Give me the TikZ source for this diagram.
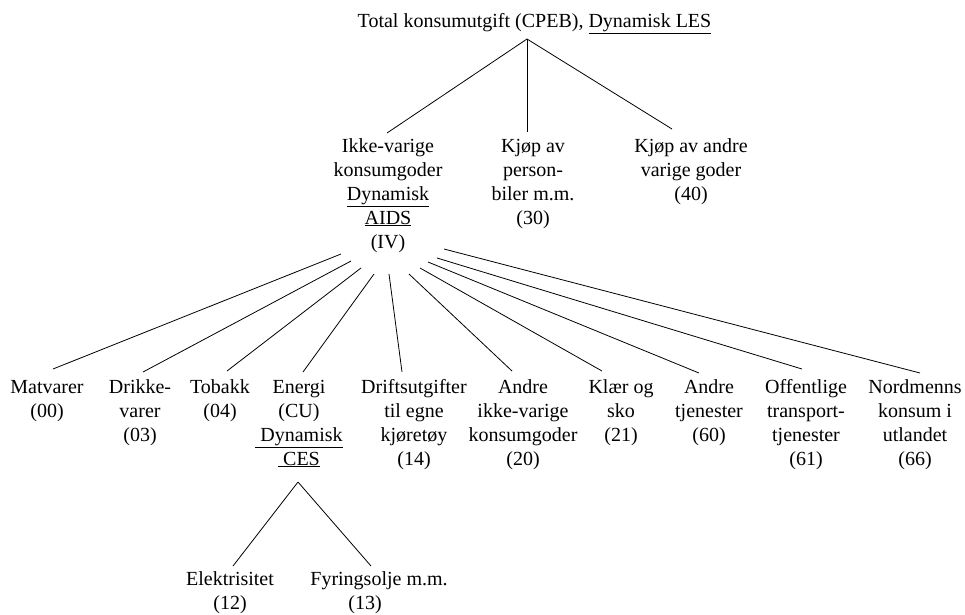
\documentclass[tikz,border=0pt]{standalone}
\usepackage{fontspec}
\setmainfont{Liberation Serif}
\tikzset{
  lbl/.style={inner sep=0pt, outer sep=0pt, align=center, anchor=north,
              font=\fontsize{20}{24}\selectfont},
  conn/.style={line width=0.8pt, black}
}
\begin{document}
\begin{tikzpicture}[x=1pt,y=-1pt]
\useasboundingbox (0,0) rectangle (965,614);
% level 1
\node[lbl] (top) at (534.5,10.2) {\strut Total konsumutgift (CPEB), \underline{Dynamisk LES}};
% level 2
\node[lbl] (ikke) at (388,135.2) {\strut Ikke-varige\\konsumgoder\\\underline{Dynamisk}\\\underline{AIDS}\\(IV)};
\node[lbl] (bil) at (533,135.2) {\strut Kjøp av\\person-\\biler m.m.\\(30)};
\node[lbl] (andre40) at (691,135.2) {\strut Kjøp av andre\\varige goder\\(40)};
% level 3
\node[lbl] (mat) at (47,376.2) {\strut Matvarer\\(00)};
\node[lbl] (drikke) at (140,376.2) {\strut Drikke-\\varer\\(03)};
\node[lbl] (tobakk) at (220,376.2) {\strut Tobakk\\(04)};
\node[lbl] (energi) at (299,376.2) {\strut Energi\\(CU)\\\underline{\ Dynamisk}\\\underline{\ CES}};
\node[lbl] (drift) at (414,376.2) {\strut Driftsutgifter\\til egne\\kjøretøy\\(14)};
\node[lbl] (andre20) at (523,376.2) {\strut Andre\\ikke-varige\\konsumgoder\\(20)};
\node[lbl] (klaer) at (621,376.2) {\strut Klær og\\sko\\(21)};
\node[lbl] (andre60) at (709,376.2) {\strut Andre\\tjenester\\(60)};
\node[lbl] (off) at (806,376.2) {\strut Offentlige\\transport-\\tjenester\\(61)};
\node[lbl] (nord) at (915,376.2) {\strut Nordmenns\\konsum i\\utlandet\\(66)};
% level 4
\node[lbl] (elek) at (230,568.2) {\strut Elektrisitet\\(12)};
\node[lbl] (fyr) at (379,568.2) {\strut Fyringsolje m.m.\\\hspace*{-28pt}(13)};
% connectors level 1 -> 2
\draw[conn] ([shift={(-7.5,28.8)}]top.north) -- ([shift={(-1,-2.2)}]ikke.north);
\draw[conn] ([shift={(-7.5,28.8)}]top.north) -- ([shift={(-6,-3.2)}]bil.north);
\draw[conn] ([shift={(-7.5,28.8)}]top.north) -- ([shift={(-19,-6.2)}]andre40.north);
% connectors level 2 -> 3
\draw[conn] ([shift={(-47,118.8)}]ikke.north) -- ([shift={(6,-7.2)}]mat.north);
\draw[conn] ([shift={(-37,125.8)}]ikke.north) -- ([shift={(3,-4.2)}]drikke.north);
\draw[conn] ([shift={(-27,132.8)}]ikke.north) -- ([shift={(7,-5.2)}]tobakk.north);
\draw[conn] ([shift={(-14,138.8)}]ikke.north) -- ([shift={(4,-4.2)}]energi.north);
\draw[conn] ([shift={(1,138.8)}]ikke.north) -- ([shift={(-12,-4.2)}]drift.north);
\draw[conn] ([shift={(21,138.8)}]ikke.north) -- ([shift={(-11,-5.2)}]andre20.north);
\draw[conn] ([shift={(32,132.8)}]ikke.north) -- ([shift={(-19,-5.2)}]klaer.north);
\draw[conn] ([shift={(40,126.8)}]ikke.north) -- ([shift={(-10,-3.2)}]andre60.north);
\draw[conn] ([shift={(49,122.8)}]ikke.north) -- ([shift={(-4,-7.2)}]off.north);
\draw[conn] ([shift={(56,113.8)}]ikke.north) -- ([shift={(5,-3.2)}]nord.north);
% connectors level 3 -> 4
\draw[conn] ([shift={(-1,105.8)}]energi.north) -- ([shift={(3,-2.2)}]elek.north);
\draw[conn] ([shift={(-1,105.8)}]energi.north) -- ([shift={(-8,-2.2)}]fyr.north);
\end{tikzpicture}
\end{document}
